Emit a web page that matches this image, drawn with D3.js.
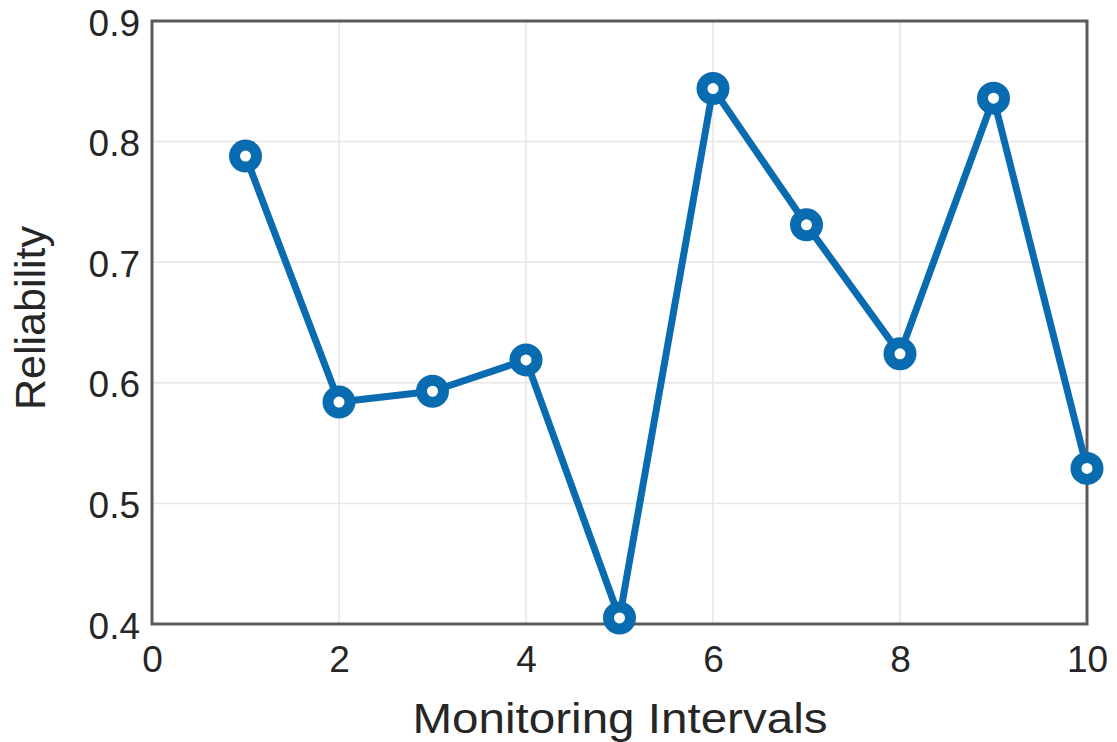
<!DOCTYPE html>
<html>
<head>
<meta charset="utf-8">
<script src="https://cdn.jsdelivr.net/npm/d3@7"></script>
<style>
  body { margin: 0; background: #fff; }
  text { font-family: "Liberation Sans", Arial, sans-serif; fill: #262626; }
</style>
</head>
<body>
<svg id="chart" width="1117" height="742"></svg>
<script>
const intervals = [1, 2, 3, 4, 5, 6, 7, 8, 9, 10];
const reliability = [0.788, 0.584, 0.593, 0.619, 0.405, 0.844, 0.731, 0.624, 0.836, 0.529];
const xTicks = [0, 2, 4, 6, 8, 10];
const yTicks = [0.4, 0.5, 0.6, 0.7, 0.8, 0.9];

const margin = { left: 152, top: 21, right: 30, bottom: 118 };
const width = 1117 - margin.left - margin.right;
const height = 742 - margin.top - margin.bottom;

const svg = d3.select("#chart");
const g = svg.append("g")
  .attr("transform", "translate(" + margin.left + "," + margin.top + ")");

const x = d3.scaleLinear().domain([0, 10]).range([0, width]);
const y = d3.scaleLinear().domain([0.4, 0.9]).range([height, 0]);

// grid
g.append("g").selectAll("line")
  .data(xTicks)
  .join("line")
  .attr("x1", d => x(d)).attr("x2", d => x(d))
  .attr("y1", 0).attr("y2", height)
  .attr("stroke", "#e6e6e6").attr("stroke-width", 1.5);
g.append("g").selectAll("line")
  .data(yTicks)
  .join("line")
  .attr("x1", 0).attr("x2", width)
  .attr("y1", d => y(d)).attr("y2", d => y(d))
  .attr("stroke", "#e6e6e6").attr("stroke-width", 1.5);

// axes
const xAxis = g.append("g")
  .attr("transform", "translate(0," + height + ")")
  .call(d3.axisBottom(x).tickValues(xTicks).tickFormat(d3.format("d")).tickSize(0).tickPadding(22));
const yAxis = g.append("g")
  .call(d3.axisLeft(y).tickValues(yTicks).tickFormat(d3.format(".1f")).tickSize(0).tickPadding(12));
[xAxis, yAxis].forEach(a => {
  a.select(".domain").remove();
  a.selectAll("text").style("font-size", "37px").attr("fill", "#262626");
});
yAxis.selectAll("text").attr("dy", "0.38em");

// box
g.append("rect")
  .attr("x", 0).attr("y", 0)
  .attr("width", width).attr("height", height)
  .attr("fill", "none").attr("stroke", "#5a5a5a").attr("stroke-width", 3);

// line
const line = d3.line().x((d, i) => x(intervals[i])).y(d => y(d));
g.append("path")
  .datum(reliability)
  .attr("d", line)
  .attr("fill", "none")
  .attr("stroke", "#0a6cb0")
  .attr("stroke-width", 7)
  .attr("stroke-linejoin", "round");

g.append("g").selectAll("circle")
  .data(reliability)
  .join("circle")
  .attr("cx", (d, i) => x(intervals[i]))
  .attr("cy", d => y(d))
  .attr("r", 11)
  .attr("fill", "#fff")
  .attr("stroke", "#0a6cb0")
  .attr("stroke-width", 11);

// labels
svg.append("text")
  .attr("x", 620)
  .attr("y", 733)
  .attr("text-anchor", "middle")
  .attr("textLength", 415)
  .attr("lengthAdjust", "spacingAndGlyphs")
  .style("font-size", "43px")
  .text("Monitoring Intervals");
svg.append("text")
  .attr("transform", "translate(45,318) rotate(-90)")
  .attr("text-anchor", "middle")
  .style("font-size", "43px")
  .text("Reliability");
</script>
</body>
</html>
